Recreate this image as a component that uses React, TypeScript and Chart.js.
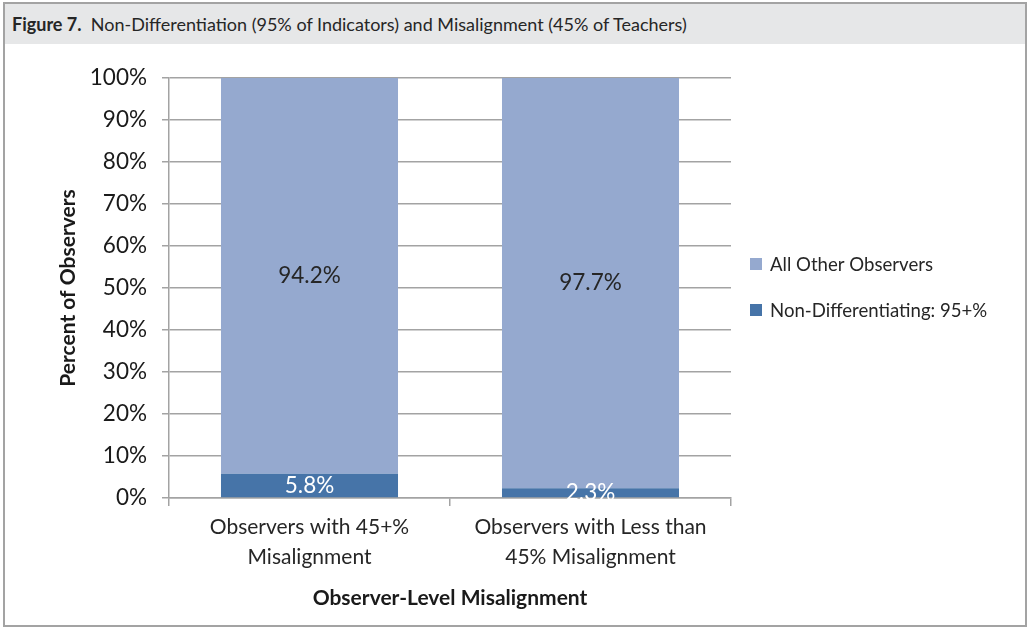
import React, { useEffect, useRef } from "react";
import { Chart, registerables } from "chart.js";

Chart.register(...registerables);

const categories: string[][] = [
  ["Observers with 45+%", "Misalignment"],
  ["Observers with Less than", "45% Misalignment"],
];
const nonDifferentiating = [5.8, 2.3];
const allOther = [94.2, 97.7];
const seriesNames = ["Non-Differentiating: 95+%", "All Other Observers"];
const seriesColors = ["#4674a8", "#95a9cf"];
const labelColors = ["#ffffff", "#262626"];
const yTitle = "Percent of Observers";
const xTitle = "Observer-Level Misalignment";
const figureLabel = "Figure 7.";
const figureTitle = "Non-Differentiation (95% of Indicators) and Misalignment (45% of Teachers)";

const FONT = "Lato, 'Open Sans', sans-serif";
const GRID = "#a3a3a3";

const dataLabelPlugin = {
  id: "dataLabels",
  afterDatasetsDraw(chart: any) {
    const ctx = chart.ctx;
    ctx.save();
    ctx.font = `22.5px ${FONT}`;
    ctx.textAlign = "center";
    ctx.textBaseline = "middle";
    chart.data.datasets.forEach((ds: any, i: number) => {
      const meta = chart.getDatasetMeta(i);
      meta.data.forEach((bar: any, j: number) => {
        const p = bar.getProps(["x", "y", "base"], true);
        ctx.fillStyle = labelColors[i];
        ctx.fillText(ds.data[j].toFixed(1) + "%", p.x, (p.y + p.base) / 2);
      });
    });
    ctx.restore();
  },
};

const legendPlugin = {
  id: "customLegend",
  afterDraw(chart: any) {
    const ctx = chart.ctx;
    const area = chart.chartArea;
    ctx.save();
    ctx.font = `18.6px ${FONT}`;
    ctx.textAlign = "left";
    ctx.textBaseline = "middle";
    const order = [1, 0];
    const x0 = area.right + 19;
    const centerY = (area.top + area.bottom) / 2;
    const gap = 46;
    order.forEach((di, k) => {
      const y = centerY - 24 + k * gap;
      ctx.fillStyle = seriesColors[di];
      ctx.fillRect(x0, y - 6, 12, 12);
      ctx.fillStyle = "#262626";
      ctx.fillText(seriesNames[di], x0 + 20, y + 1);
    });
    ctx.restore();
  },
};

export default function App() {
  const ref = useRef<HTMLCanvasElement | null>(null);

  useEffect(() => {
    if (!ref.current) return;
    const chart = new Chart(ref.current, {
      type: "bar",
      data: {
        labels: categories,
        datasets: [
          {
            label: seriesNames[0],
            data: nonDifferentiating,
            backgroundColor: seriesColors[0],
            categoryPercentage: 1,
            barPercentage: 0.63,
          },
          {
            label: seriesNames[1],
            data: allOther,
            backgroundColor: seriesColors[1],
            categoryPercentage: 1,
            barPercentage: 0.63,
          },
        ],
      },
      options: {
        responsive: false,
        animation: false,
        layout: { padding: { top: 78, right: 298, left: 0, bottom: 0 } },
        plugins: { legend: { display: false }, tooltip: { enabled: false } },
        scales: {
          x: {
            stacked: true,
            offset: true,
            grid: {
              offset: true,
              drawOnChartArea: false,
              drawTicks: true,
              tickLength: 8,
              color: GRID,
              lineWidth: 1.5,
            },
            border: { display: true, color: GRID, width: 1.5 },
            ticks: {
              color: "#262626",
              font: { family: FONT, size: 21, lineHeight: "30px" },
              padding: 6,
              maxRotation: 0,
              autoSkip: false,
            },
            title: {
              display: true,
              text: xTitle,
              color: "#1a1a1a",
              font: { family: FONT, size: 21, weight: "bold", lineHeight: 1.2 },
              padding: { top: 0, bottom: 17.4 },
            },
            afterFit(scale: any) {
              scale.height = 130;
            },
          },
          y: {
            stacked: true,
            min: 0,
            max: 100,
            ticks: {
              stepSize: 10,
              color: "#1a1a1a",
              font: { family: FONT, size: 22.5 },
              padding: 15,
              callback: (v: any) => v + "%",
            },
            grid: { color: GRID, lineWidth: 1.5, tickLength: 7 },
            border: { display: true, color: GRID, width: 1.5 },
            title: {
              display: true,
              text: yTitle,
              color: "#1a1a1a",
              font: { family: FONT, size: 21, weight: "bold", lineHeight: 1.2 },
              padding: { top: 55.4, bottom: 0 },
            },
            afterFit(scale: any) {
              scale.width = 169;
            },
          },
        },
      },
      plugins: [dataLabelPlugin, legendPlugin],
    });
    return () => chart.destroy();
  }, []);

  return (
    <div
      style={{
        position: "fixed",
        left: 0,
        top: 0,
        width: 1029,
        height: 628,
        background: "#ffffff",
        overflow: "hidden",
      }}
    >
      <div
        style={{
          position: "absolute",
          left: 3,
          top: 2,
          width: 1024,
          height: 625,
          border: "2px solid #a3a3a3",
          boxSizing: "border-box",
        }}
      />
      <div
        style={{
          position: "absolute",
          left: 5,
          top: 4,
          width: 1020,
          height: 40,
          background: "#e6e7e8",
          display: "flex",
          alignItems: "center",
          paddingLeft: 7,
          boxSizing: "border-box",
          fontFamily: FONT,
          fontSize: 18,
          color: "#262626",
          whiteSpace: "nowrap",
        }}
      >
        <span style={{ fontWeight: "bold" }}>{figureLabel}</span>
        <span>&nbsp;&nbsp;{figureTitle}</span>
      </div>
      <canvas
        ref={ref}
        width={1029}
        height={628}
        style={{ position: "absolute", left: 0, top: 0, width: 1029, height: 628 }}
      />
    </div>
  );
}
